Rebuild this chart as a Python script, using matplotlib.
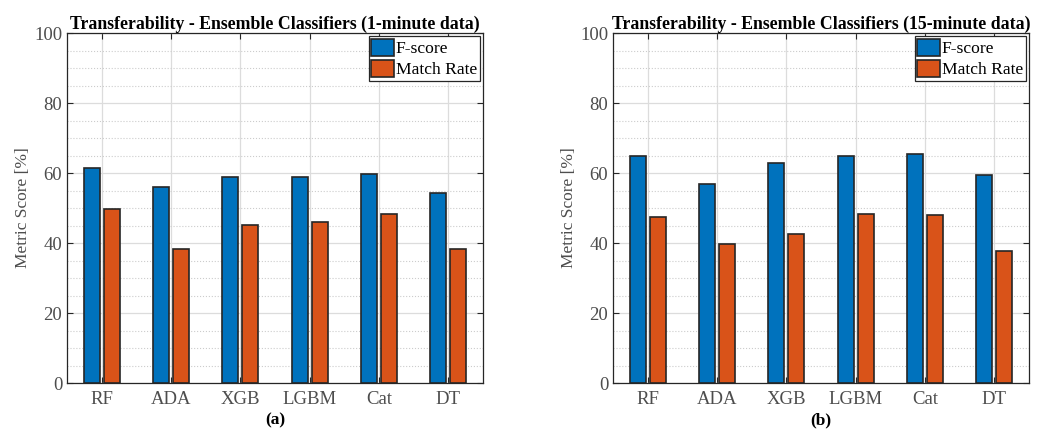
import numpy as np
import matplotlib.pyplot as plt
from matplotlib.ticker import MultipleLocator

modelos = ['RF', 'ADA', 'XGB', 'LGBM', 'Cat', 'DT']

# 1-minute data
fscore_1min = [61.3, 56.1, 59.0, 59.0, 59.8, 54.2]
match_1min = [49.8, 38.2, 45.1, 45.9, 48.4, 38.2]

# 15-minute data
fscore_15min = [64.9, 56.8, 62.9, 64.9, 65.3, 59.3]
match_15min = [47.4, 39.6, 42.5, 48.3, 47.9, 37.7]

titulos = ['Transferability - Ensemble Classifiers (1-minute data)',
           'Transferability - Ensemble Classifiers (15-minute data)']
etiquetas = ['(a)', '(b)']

azul = '#0072BD'
naranja = '#D95319'
gris = '#262626'

plt.rcParams['font.family'] = ['Liberation Serif', 'DejaVu Serif']

fig = plt.figure(figsize=(10.43, 4.29), dpi=100)
ejes = [fig.add_axes([67 / 1043, 46 / 429, 416 / 1043, 350 / 429]),
        fig.add_axes([613 / 1043, 46 / 429, 416 / 1043, 350 / 429])]

datos = [(fscore_1min, match_1min), (fscore_15min, match_15min)]
x = np.arange(1, len(modelos) + 1)
ancho = 0.23
desp = 0.143

for ax, (f, m), titulo, etiqueta in zip(ejes, datos, titulos, etiquetas):
    ax.bar(x - desp, f, ancho, color=azul, edgecolor=gris, linewidth=1.2,
           label='F-score', zorder=3)
    ax.bar(x + desp, m, ancho, color=naranja, edgecolor=gris, linewidth=1.2,
           label='Match Rate', zorder=3)

    ax.set_xlim(0.5, 6.5)
    ax.set_ylim(0, 100)
    ax.set_xticks(x)
    ax.set_xticklabels(modelos)
    ax.yaxis.set_major_locator(MultipleLocator(20))
    ax.yaxis.set_minor_locator(MultipleLocator(5))

    ax.grid(True, which='major', color='#dcdcdc', linewidth=0.9, zorder=0)
    ax.grid(True, which='minor', axis='y', color='#cccccc', linestyle=':',
            linewidth=0.8, zorder=0)
    ax.set_axisbelow(True)

    ax.tick_params(which='major', direction='in', length=4, width=0.8,
                   top=True, right=True, colors=gris, labelsize=13.5,
                   labelcolor='#4d4d4d')
    ax.tick_params(axis='x', pad=6)
    ax.tick_params(which='minor', length=0)
    for lado in ax.spines.values():
        lado.set_color(gris)
        lado.set_linewidth(0.9)

    ax.set_title(titulo, fontsize=12.8, fontweight='bold', pad=3)
    ax.set_ylabel('Metric Score [%]', fontsize=12.5, color='#4d4d4d',
                  labelpad=2)
    ax.set_xlabel(etiqueta, fontsize=12.5, fontweight='bold', labelpad=3)

    leg = ax.legend(loc='upper right', fontsize=12.6, fancybox=False,
                    framealpha=1, edgecolor=gris, borderaxespad=0.2,
                    handlelength=1.3, handleheight=1.1, handletextpad=0.1,
                    borderpad=0.15, labelspacing=0.15)
    leg.get_frame().set_linewidth(0.9)

fig.savefig('out.png', dpi=100)
